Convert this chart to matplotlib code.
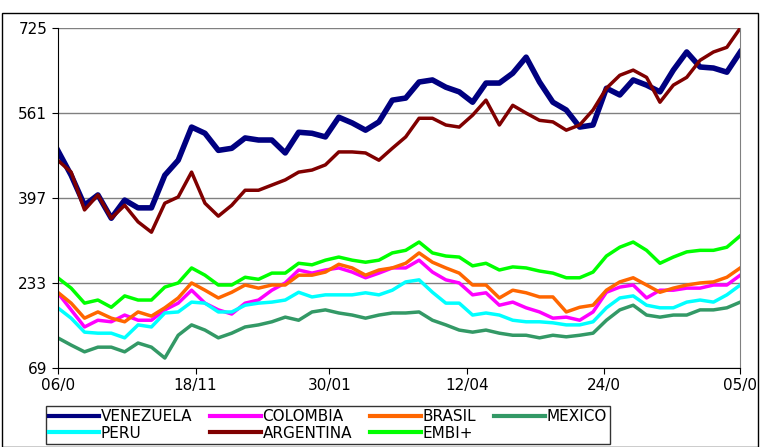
import numpy as np
import matplotlib.pyplot as plt

xlabels = ['06/0', '18/11', '30/01', '12/04', '24/0', '05/0']
xtick_pos = [0, 10.3, 20.3, 30.6, 40.8, 51]
yticks = [69, 233, 397, 561, 725]

venezuela = [489,441,383,403,358,393,378,378,441,470,534,522,489,493,513,509,509,484,524,522,515,553,542,528,544,586,590,621,625,611,602,582,619,619,638,669,621,582,567,534,538,609,596,625,615,602,644,679,650,648,640,679]
argentina = [470,447,374,403,358,383,351,331,387,399,447,387,362,383,412,412,422,432,447,451,461,486,486,484,470,493,515,551,551,538,534,557,586,538,576,561,547,544,528,538,567,609,634,644,630,582,615,630,663,679,688,725]
embi = [243,223,194,200,186,208,200,200,225,233,262,248,229,229,244,240,252,252,271,268,277,283,277,273,277,291,296,312,291,285,283,266,271,258,264,262,256,252,243,243,254,285,302,312,296,271,283,293,296,296,302,324]
brasil = [215,194,165,177,165,158,177,169,185,204,233,219,204,215,229,223,229,229,248,248,254,269,262,248,258,262,271,291,273,262,252,229,229,204,219,214,206,206,177,186,190,219,235,243,229,215,223,229,233,235,244,262]
colombia = [214,181,148,161,158,171,161,161,181,194,219,194,181,173,194,200,219,233,258,252,258,262,254,243,252,262,262,277,254,239,233,210,214,190,196,185,177,165,167,161,177,215,225,229,204,219,219,223,223,229,229,248]
peru = [185,165,138,136,136,127,152,148,175,177,196,194,177,177,190,194,196,200,215,206,210,210,210,214,210,219,235,239,215,194,194,171,175,171,161,158,158,156,152,152,158,185,204,208,190,185,185,196,200,196,210,229]
mexico = [127,113,100,109,109,100,117,109,88,132,152,142,127,136,148,152,158,167,161,177,181,175,171,165,171,175,175,177,161,152,142,138,142,136,132,132,127,132,129,132,136,161,181,190,171,167,171,171,181,181,185,196]

series = [('VENEZUELA', venezuela, '#000080', 4),
          ('COLOMBIA', colombia, '#FF00FF', 2.5),
          ('BRASIL', brasil, '#FF6600', 2.5),
          ('MEXICO', mexico, '#339966', 2.5),
          ('PERU', peru, '#00FFFF', 2.5),
          ('ARGENTINA', argentina, '#800000', 2.5),
          ('EMBI+', embi, '#00FF00', 2.5)]

fig = plt.figure(figsize=(7.6, 4.47), dpi=100)
ax = fig.add_axes([0.076, 0.177, 0.898, 0.76])
x = np.arange(len(venezuela))
lines = {}
for name, vals, col, lw in series:
    lines[name], = ax.plot(x, vals, color=col, lw=lw, label=name)

ax.set_xlim(0, 51)
ax.set_ylim(69, 725)
ax.set_yticks(yticks)
ax.set_xticks(xtick_pos)
ax.set_xticklabels(xlabels)
ax.tick_params(labelsize=11, length=4)
ax.grid(axis='y', color='#808080', lw=1)
ax.spines['top'].set_visible(False)
ax.spines['right'].set_color('#808080')

# column-major order so the legend reads row by row
order = ['VENEZUELA', 'PERU', 'COLOMBIA', 'ARGENTINA', 'BRASIL', 'EMBI+', 'MEXICO']
leg = fig.legend([lines[n] for n in order], order, loc='lower left',
                 bbox_to_anchor=(0.05, -0.01), ncol=4, frameon=True,
                 fancybox=False, edgecolor='black', fontsize=11, handlelength=3.3,
                 handletextpad=0.1, columnspacing=1.2, labelspacing=0.1, borderpad=0.2)
for h in leg.get_lines():
    h.set_linewidth(3)
fig.patches.append(plt.Rectangle((0.002, 0.0), 0.996, 0.972, transform=fig.transFigure,
                                 fill=False, edgecolor='black', lw=1))
fig.savefig('out.png')
